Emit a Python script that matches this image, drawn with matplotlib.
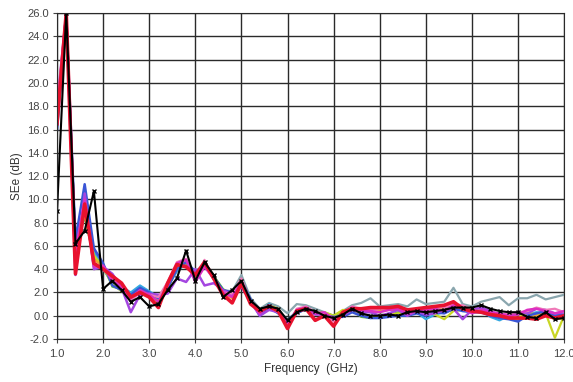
import numpy as np
import matplotlib
matplotlib.use("Agg")
import matplotlib.pyplot as plt

plt.rcParams["font.family"] = ["Liberation Sans", "DejaVu Sans"]

# frequency sweep (GHz)
freq = [1.0, 1.2, 1.4, 1.6, 1.8, 2.0, 2.2, 2.4, 2.6, 2.8,
        3.0, 3.2, 3.4, 3.6, 3.8, 4.0, 4.2, 4.4, 4.6, 4.8,
        5.0, 5.2, 5.4, 5.6, 5.8, 6.0, 6.2, 6.4, 6.6, 6.8,
        7.0, 7.2, 7.4, 7.6, 7.8, 8.0, 8.2, 8.4, 8.6, 8.8,
        9.0, 9.2, 9.4, 9.6, 9.8, 10.0, 10.2, 10.4, 10.6, 10.8,
        11.0, 11.2, 11.4, 11.6, 11.8, 12.0]

se_gray = [16.0, 26.0, 6.3, 9.5, 5.6, 4.3, 2.9, 2.3, 1.9, 2.5, 2.0, 1.5, 2.5, 3.9, 4.6, 3.6,
           4.4, 3.4, 2.2, 2.1, 3.5, 1.5, 0.6, 1.1, 0.8, 0.2, 1.0, 0.9, 0.6, 0.3, 0.0, 0.4,
           0.9, 1.1, 1.5, 0.8, 0.9, 1.0, 0.8, 1.4, 1.0, 1.1, 1.2, 2.4, 1.0, 0.8, 1.2, 1.4,
           1.6, 0.9, 1.5, 1.5, 1.8, 1.4, 1.6, 1.8]
se_cyan = [16.5, 26.0, 6.0, 9.0, 5.5, 4.0, 2.8, 2.5, 2.0, 2.6, 2.1, 1.6, 2.5, 3.8, 4.5, 3.5,
           4.4, 3.1, 2.1, 2.0, 2.7, 1.2, 0.3, 1.0, 0.5, -0.4, 0.4, 0.6, 0.2, 0.1, -0.1, 0.2,
           0.4, 0.1, 0.0, -0.2, 0.2, 0.1, 0.2, 0.3, -0.3, 0.1, 0.3, 0.8, 0.5, 0.4, 0.5, -0.1,
           -0.4, 0.0, -0.4, 0.1, 0.3, 0.2, 0.1, 0.3]
se_green = [17.0, 26.0, 6.0, 8.5, 5.0, 4.4, 2.5, 2.3, 1.6, 2.3, 1.9, 1.4, 2.3, 4.2, 4.4, 3.2,
            4.5, 3.4, 2.3, 1.7, 2.8, 1.3, 0.4, 0.8, 0.5, -0.6, 0.3, 0.5, 0.3, 0.2, 0.0, 0.4,
            0.5, -0.1, -0.2, 0.1, 0.0, 0.3, 0.2, 0.3, 0.2, 0.4, 0.3, 0.5, 0.6, 0.3, 0.4, 0.2,
            0.0, -0.1, 0.1, 0.2, 0.1, 0.3, -0.2, -0.1]
se_yellow = [17.5, 26.0, 5.8, 9.2, 5.2, 4.1, 2.7, 2.1, 1.7, 2.2, 1.7, 1.3, 2.4, 4.0, 4.7, 3.3,
             4.3, 3.2, 2.1, 1.8, 2.6, 1.2, 0.3, 0.9, 0.6, -0.7, 0.4, 0.5, 0.2, 0.3, 0.0, 0.5,
             0.4, 0.0, -0.1, 0.0, 0.1, 0.2, 0.3, 0.4, 0.3, 0.1, -0.3, 0.4, 0.5, 0.4, 0.5, 0.2,
             -0.1, 0.1, -0.2, 0.3, 0.1, 0.2, -1.9, 0.0]
se_orange = [16.8, 26.0, 5.2, 8.8, 4.8, 4.3, 3.1, 2.4, 1.4, 2.1, 1.6, 1.1, 2.6, 4.3, 4.3, 3.4,
             4.6, 3.3, 1.9, 1.5, 2.9, 1.0, 0.5, 0.7, 0.4, -0.9, 0.5, 0.6, 0.1, 0.2, -0.4, 0.3,
             0.6, 0.4, 0.3, 0.4, 0.5, 0.5, 0.3, 0.5, 0.5, 0.5, 0.6, 0.8, 0.5, 0.3, 0.3, 0.1,
             -0.1, -0.2, -0.3, -0.2, 0.0, 0.1, -0.3, -0.2]
se_blue = [16.0, 26.0, 6.5, 11.3, 5.8, 4.5, 2.6, 2.2, 1.8, 2.4, 2.0, 1.5, 2.4, 4.0, 4.6, 3.8,
           4.3, 3.3, 2.2, 2.0, 3.0, 1.4, 0.0, 0.7, 0.2, -0.5, 0.2, 0.6, 0.3, 0.0, -0.1, -0.1,
           0.3, 0.0, -0.2, -0.2, -0.1, 0.0, 0.0, 0.2, 0.0, 0.3, 0.2, 0.6, 0.4, 0.3, 0.3, 0.0,
           -0.2, -0.3, -0.5, 0.0, 0.2, 0.4, 0.0, 0.1]
se_purple = [18.0, 26.0, 3.5, 10.5, 4.0, 4.2, 3.6, 2.4, 0.3, 1.8, 1.9, 1.8, 1.9, 3.2, 2.9, 4.0,
             2.6, 2.8, 2.2, 1.8, 2.5, 1.2, 0.0, 0.5, 0.3, -0.6, 0.4, 0.5, 0.1, 0.1, -0.2, 0.0,
             0.5, 0.3, 0.3, 0.0, 0.2, 0.5, 0.0, 0.4, 0.1, 0.2, 0.5, 0.6, -0.3, 0.5, 0.7, 0.4,
             0.1, -0.2, 0.3, 0.2, 0.6, 0.5, 0.2, 0.3]
se_pink = [17.8, 26.0, 4.0, 9.8, 4.4, 4.0, 3.2, 2.8, 1.3, 2.0, 1.8, 1.6, 2.9, 4.6, 4.9, 3.0,
           4.8, 3.1, 2.0, 1.9, 3.2, 1.1, 0.3, 0.8, 0.3, -0.9, 0.6, 0.8, 0.3, 0.1, -0.5, 0.2,
           0.8, 0.6, 0.5, 0.6, 0.6, 0.7, 0.4, 0.5, 0.6, 0.8, 0.7, 1.0, 0.9, 0.5, 0.3, 0.2,
           0.1, 0.2, 0.3, 0.4, 0.7, 0.5, 0.6, 0.3]
se_magenta = [17.2, 26.0, 5.5, 10.0, 4.2, 4.3, 3.0, 2.5, 1.5, 2.2, 1.8, 1.2, 2.6, 4.5, 4.8, 2.9,
              4.2, 3.2, 2.0, 1.6, 2.9, 1.1, 0.2, 0.9, 0.4, -0.8, 0.5, 0.7, 0.2, 0.3, -0.3, 0.1,
              0.7, 0.5, 0.4, 0.3, 0.5, 0.6, 0.2, 0.4, 0.5, 0.6, 0.4, 0.9, 0.6, 0.2, 0.5, 0.3,
              0.2, 0.0, 0.1, 0.5, 0.6, 0.4, 0.2, 0.4]
se_red = [16.5, 26.0, 3.6, 9.6, 4.5, 4.0, 3.4, 2.8, 1.6, 2.0, 1.6, 0.7, 2.8, 4.4, 4.2, 3.5,
          4.6, 3.2, 1.8, 1.1, 2.8, 1.0, 0.4, 0.8, 0.4, -1.1, 0.4, 0.6, -0.4, 0.0, -0.9, 0.3,
          0.6, 0.6, 0.7, 0.7, 0.7, 0.8, 0.5, 0.6, 0.7, 0.8, 0.9, 1.2, 0.6, 0.4, 0.3, 0.1,
          0.0, -0.2, -0.2, -0.2, -0.3, 0.0, -0.2, 0.0]
se_black = [9.0, 26.0, 6.2, 7.3, 10.7, 2.3, 3.0, 2.2, 1.2, 1.6, 0.8, 1.0, 2.2, 3.2, 5.6, 3.0,
            4.6, 3.5, 1.6, 2.2, 3.0, 1.3, 0.6, 0.8, 0.6, -0.4, 0.3, 0.6, 0.4, 0.0, -0.2, 0.1,
            0.6, 0.2, 0.0, 0.0, 0.1, 0.0, 0.3, 0.4, 0.3, 0.4, 0.5, 0.7, 0.7, 0.7, 0.9, 0.6,
            0.4, 0.3, 0.3, -0.1, -0.2, 0.3, -0.3, -0.2]

fig = plt.figure(figsize=(5.73, 3.82), dpi=100)
ax = fig.add_axes([0.0995, 0.1126, 0.885, 0.853])

colored = [
    (se_gray, "#8aa6ae", 1.6),
    (se_cyan, "#35a9e2", 1.6),
    (se_green, "#5cc23a", 1.6),
    (se_yellow, "#c9d624", 1.6),
    (se_orange, "#f0a236", 1.6),
    (se_blue, "#3a55d6", 1.8),
    (se_purple, "#a446e0", 1.8),
    (se_pink, "#f07ab8", 1.6),
    (se_magenta, "#dc2fc2", 1.8),
    (se_red, "#e8122e", 2.6),
]
for vals, col, lw in colored:
    ax.plot(freq, vals, color=col, lw=lw, solid_joinstyle="round")

ax.plot(freq, se_black, color="black", lw=1.5, marker="x", ms=3.5, mew=1.0)

ax.set_xlim(1.0, 12.0)
ax.set_ylim(-2.0, 26.0)
ax.set_xticks(np.arange(1, 13, 1.0))
ax.set_yticks(np.arange(-2, 27, 2.0))
ax.xaxis.set_major_formatter(matplotlib.ticker.FormatStrFormatter("%.1f"))
ax.yaxis.set_major_formatter(matplotlib.ticker.FormatStrFormatter("%.1f"))
ax.grid(True, color="#2a2a2a", lw=1.0)
ax.set_axisbelow(True)
for s in ax.spines.values():
    s.set_color("#2a2a2a")
ax.tick_params(colors="#444444", labelsize=8, length=3, width=0.8)
ax.tick_params(axis="x", pad=4)
ax.tick_params(axis="y", pad=3)

ax.set_xlabel("Frequency  (GHz)", fontsize=8.5, color="#333333", labelpad=3)
ax.set_ylabel("SEe (dB)", fontsize=8.5, color="#333333", labelpad=3)

fig.savefig("out.png", dpi=100, facecolor="white")
